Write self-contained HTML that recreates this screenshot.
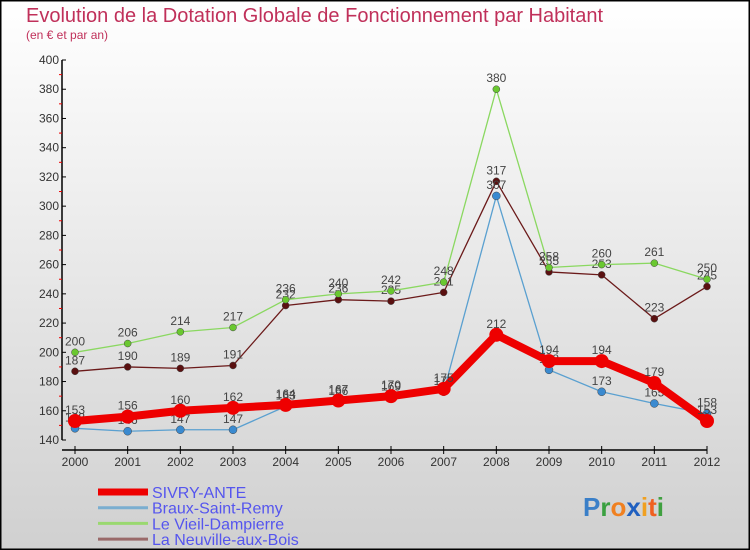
<!DOCTYPE html>
<html><head><meta charset="utf-8"><style>
body{margin:0;width:750px;height:550px;overflow:hidden;font-family:"Liberation Sans",sans-serif}
svg{display:block}
</style></head><body>
<svg width="750" height="550" viewBox="0 0 750 550">
<defs><linearGradient id="bg" x1="0" y1="0" x2="0" y2="1"><stop offset="0" stop-color="#ffffff"/><stop offset="1" stop-color="#d0d0d0"/></linearGradient></defs>
<rect x="0.5" y="0.5" width="749" height="549" fill="url(#bg)" stroke="#000" stroke-width="2"/>
<text x="26" y="22" font-size="20" fill="#c0305a">Evolution de la Dotation Globale de Fonctionnement par Habitant</text>
<text x="26" y="39" font-size="12" fill="#c0305a">(en € et par an)</text>
<g id="axes"></g><g id="series"></g><g id="legend"></g>
<text x="583" y="516" font-size="26" font-weight="bold"><tspan fill="#3a7fc8">P</tspan><tspan fill="#3aa040">r</tspan><tspan fill="#f08020">o</tspan><tspan fill="#2060c0">x</tspan><tspan fill="#f0a020">i</tspan><tspan fill="#f06020">t</tspan><tspan fill="#40a040">i</tspan></text>
</svg>
<script>
const years=[2000,2001,2002,2003,2004,2005,2006,2007,2008,2009,2010,2011,2012];
const yTicks=[140,160,180,200,220,240,260,280,300,320,340,360,380,400];
const names=["SIVRY-ANTE","Braux-Saint-Remy","Le Vieil-Dampierre","La Neuville-aux-Bois"];
const sivry=[153,156,160,162,164,167,170,175,212,194,194,179,153];
const braux=[148,146,147,147,163,166,169,173,307,188,173,165,158];
const vieil=[200,206,214,217,236,240,242,248,380,258,260,261,250];
const neuville=[187,190,189,191,232,236,235,241,317,255,253,223,245];
const NS="http://www.w3.org/2000/svg";
const X=i=>75+i*(707-75)/12;
const Y=v=>440-(v-140)*(380/260);
function mk(t,a,p){const e=document.createElementNS(NS,t);for(const k in a)e.setAttribute(k,a[k]);p.appendChild(e);return e;}
const ax=document.getElementById('axes');
const yl=mk('line',{x1:62,y1:60,x2:62,y2:440,stroke:'#000','stroke-width':1.5},ax);


const xl=mk('line',{x1:62,y1:450,x2:707,y2:450,stroke:'#000','stroke-width':1.5},ax);


yTicks.forEach((v,i)=>{
 mk('line',{x1:62,y1:Y(v),x2:66,y2:Y(v),stroke:'#000'},ax);
 const t=mk('text',{x:59,y:Y(v)+4,'font-size':12,'text-anchor':'end',fill:'#333'},ax);t.textContent=v;
 
 
 if(i<yTicks.length-1){mk('line',{x1:59,y1:Y(v+10),x2:62,y2:Y(v+10),stroke:'#e00'},ax);}
});
years.forEach((y,i)=>{
 mk('line',{x1:X(i),y1:446,x2:X(i),y2:454,stroke:'#000'},ax);
 const t=mk('text',{x:X(i),y:466,'font-size':12,'text-anchor':'middle',fill:'#333'},ax);t.textContent=y;
 
 
});
const sg=document.getElementById('series');
const specs=[[neuville,'#6b1a1a','#5a1010',1.3,3.5],[vieil,'#8ad860','#6ac830',1.3,3.5],[braux,'#5aa0d0','#3a8ad0',1.3,4],[sivry,'#ee0000','#ee0000',8,7]];
const order=[3,2,1,0];
specs.forEach((s,k)=>{
 const [d,lc,pc,w,r]=s;
 const g=mk('g',{},sg);
 
 
 const pl=mk('polyline',{points:d.map((v,i)=>X(i)+','+Y(v)).join(' '),fill:'none',stroke:lc,'stroke-width':w,'stroke-linejoin':'round'},g);
 
 
 d.forEach((v,i)=>{
  const c=mk('circle',{cx:X(i),cy:Y(v),r:r,fill:pc,stroke:k==3?'none':'#444','stroke-width':0.5},g);
  
  
  const t=mk('text',{x:X(i),y:Y(v)-7,'font-size':12,'text-anchor':'middle',fill:'#444'},g);t.textContent=v;
  
  
 });
});
const lg=document.getElementById('legend');
const lcols=['#ee0000','#7aaed0','#9ad870','#9a6a6a'];
names.forEach((n,i)=>{
 const y=492+i*15.7;
 const g=mk('g',{},lg);
 
 
 mk('line',{x1:98,y1:y,x2:148,y2:y,stroke:lcols[i],'stroke-width':i==0?7:3},g);
 const t=mk('text',{x:152,y:y+6,'font-size':16,fill:'#5555ee',textLength:i==0?0:null},g);
 t.removeAttribute('textLength');
 t.textContent=n;
});
</script>
</body></html>
